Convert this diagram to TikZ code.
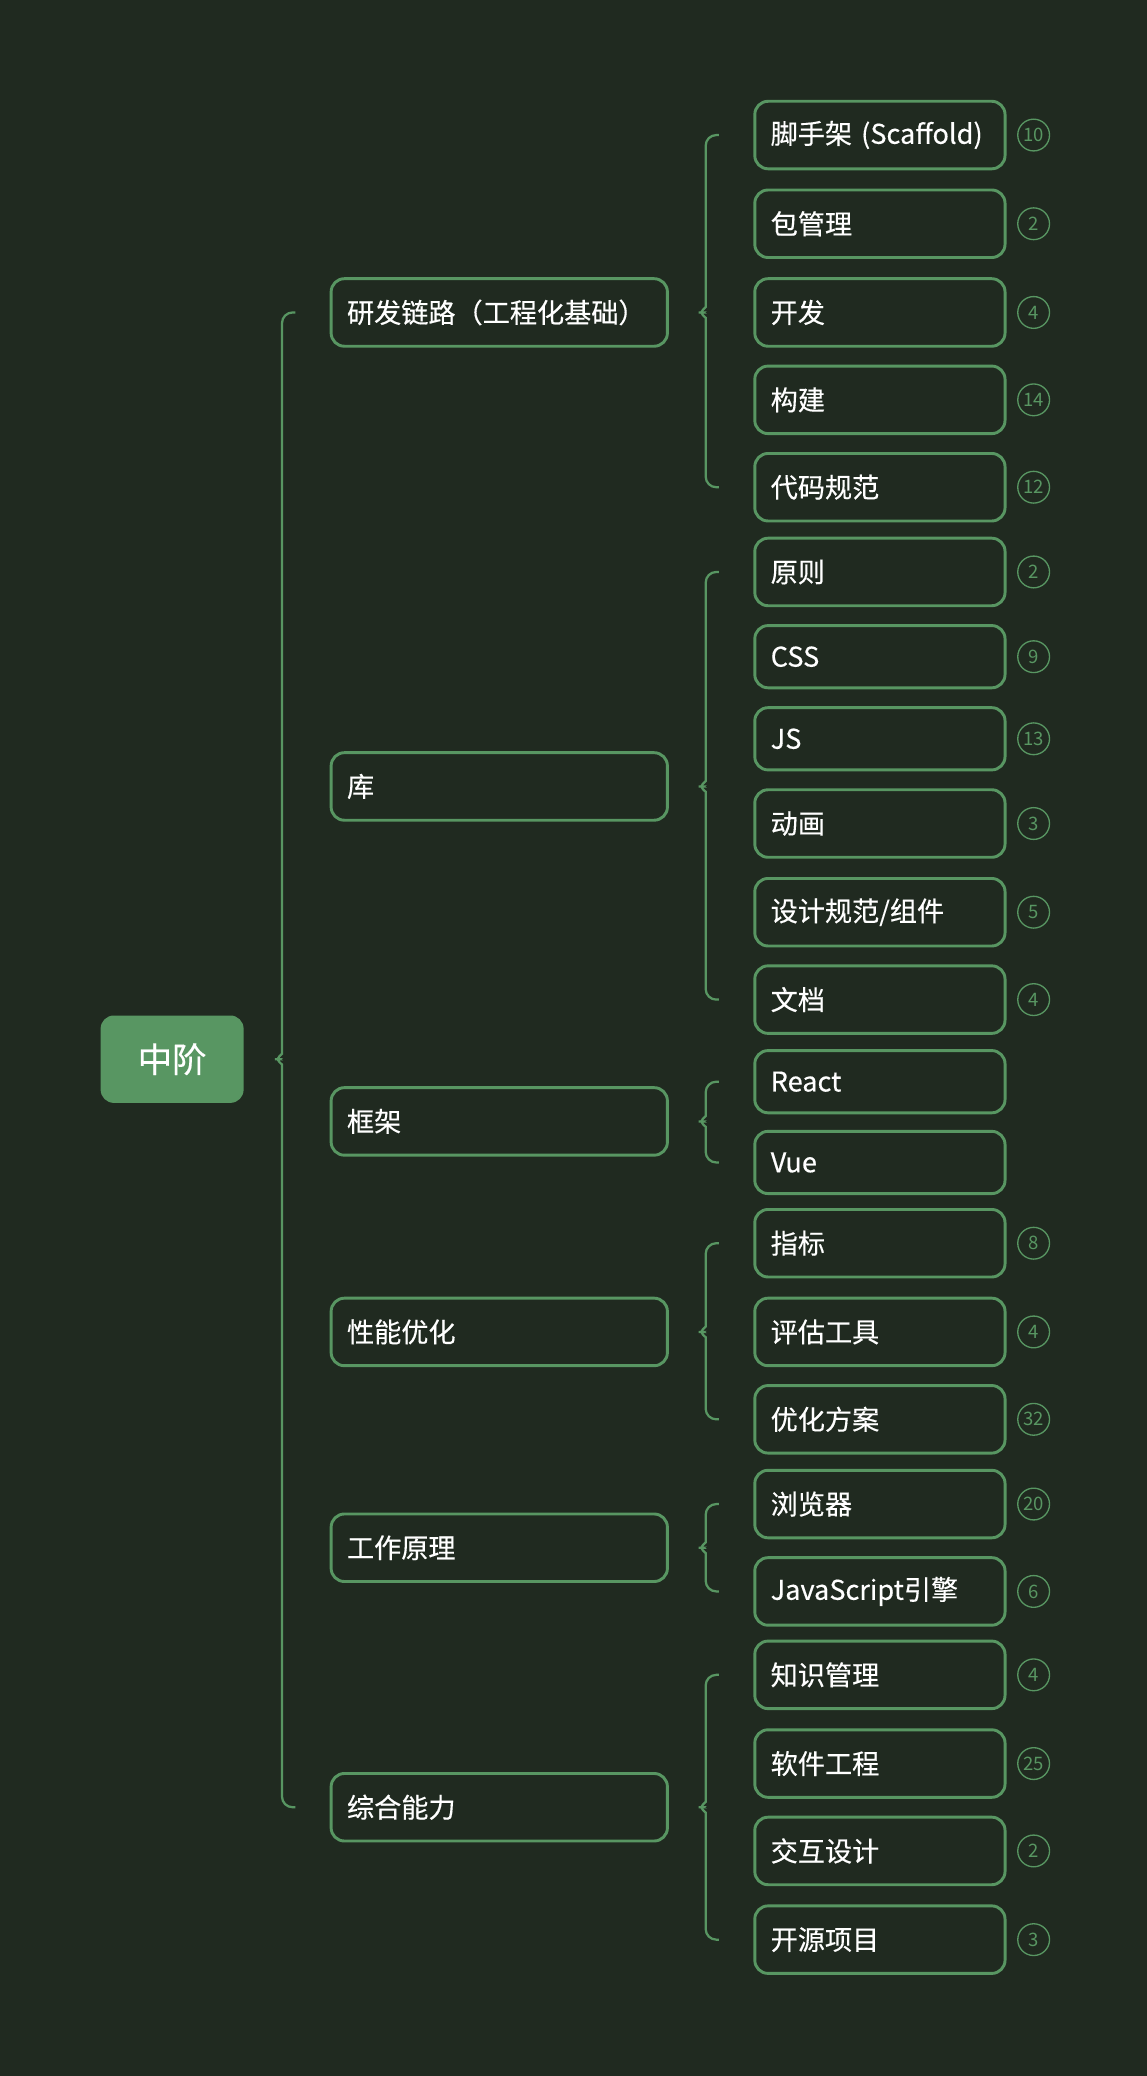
\documentclass[tikz,border=0pt]{standalone}
\usepackage{fontspec}
\setmainfont{Noto Sans CJK SC}[FakeBold=0.35]
\newfontfamily\badgefont{Noto Sans CJK SC}
\usepackage{tikz}
\usetikzlibrary{calc,positioning}
\definecolor{bgdark}{HTML}{202A20}
\definecolor{leaf}{HTML}{589662}

\begin{document}
\begin{tikzpicture}[x=1pt,y=-1pt]

\tikzset{rootnode/.style={fill=leaf,rounded corners=10pt,minimum width=108pt,minimum height=66pt,inner sep=0pt,text=white,font=\fontsize{26}{30}\selectfont},
topic/.style={draw=leaf,line width=2.2pt,rounded corners=10pt,anchor=west,text width=230pt,minimum height=51pt,inner xsep=12pt,inner ysep=0pt,align=left,text=white,font=\fontsize{20.5}{24}\selectfont},
subtopic/.style={topic,text width=165pt},
shortbox/.style={minimum height=47pt},
countbadge/.style={draw=leaf,line width=1pt,circle,minimum size=24pt,inner sep=0pt,text=leaf,font=\badgefont\fontsize{14}{16}\selectfont},
bracepath/.style={draw=leaf,line width=1.7pt,rounded corners=8pt}}

% Background
\fill[bgdark] (0,0) rectangle (866,1568);

% Root
\node[rootnode] (root) at (130,800) {中阶};

% First level
\node[topic] (t1) at (249,236) {研发链路（工程化基础）};
\node[topic] (t2) at (249,594) {库};
\node[topic] (t3) at (249,847) {框架};
\node[topic] (t4) at (249,1006) {性能优化};
\node[topic] (t5) at (249,1169) {工作原理};
\node[topic] (t6) at (249,1365) {综合能力};

% Second level with counts
\node[subtopic] (s11) at (569,102) {脚手架 (Scaffold)}; \node[countbadge,right=8pt of s11] (c11) {10};
\node[subtopic] (s12) at (569,169) {包管理}; \node[countbadge,right=8pt of s12] (c12) {2};
\node[subtopic] (s13) at (569,236) {开发}; \node[countbadge,right=8pt of s13] (c13) {4};
\node[subtopic] (s14) at (569,302) {构建}; \node[countbadge,right=8pt of s14] (c14) {14};
\node[subtopic] (s15) at (569,368) {代码规范}; \node[countbadge,right=8pt of s15] (c15) {12};

\node[subtopic] (s21) at (569,432) {原则}; \node[countbadge,right=8pt of s21] (c21) {2};
\node[subtopic,shortbox] (s22) at (569,496) {CSS}; \node[countbadge,right=8pt of s22] (c22) {9};
\node[subtopic,shortbox] (s23) at (569,558) {JS}; \node[countbadge,right=8pt of s23] (c23) {13};
\node[subtopic] (s24) at (569,622) {动画}; \node[countbadge,right=8pt of s24] (c24) {3};
\node[subtopic] (s25) at (569,689) {设计规范/组件}; \node[countbadge,right=8pt of s25] (c25) {5};
\node[subtopic] (s26) at (569,755) {文档}; \node[countbadge,right=8pt of s26] (c26) {4};

\node[subtopic,shortbox] (s31) at (569,817) {React};
\node[subtopic,shortbox] (s32) at (569,878) {Vue};

\node[subtopic] (s41) at (569,939) {指标}; \node[countbadge,right=8pt of s41] (c41) {8};
\node[subtopic] (s42) at (569,1006) {评估工具}; \node[countbadge,right=8pt of s42] (c42) {4};
\node[subtopic] (s43) at (569,1072) {优化方案}; \node[countbadge,right=8pt of s43] (c43) {32};

\node[subtopic] (s51) at (569,1136) {浏览器}; \node[countbadge,right=8pt of s51] (c51) {20};
\node[subtopic] (s52) at (569,1202) {JavaScript引擎}; \node[countbadge,right=8pt of s52] (c52) {6};

\node[subtopic] (s61) at (569,1265) {知识管理}; \node[countbadge,right=8pt of s61] (c61) {4};
\node[subtopic] (s62) at (569,1332) {软件工程}; \node[countbadge,right=8pt of s62] (c62) {25};
\node[subtopic] (s63) at (569,1398) {交互设计}; \node[countbadge,right=8pt of s63] (c63) {2};
\node[subtopic] (s64) at (569,1465) {开源项目}; \node[countbadge,right=8pt of s64] (c64) {3};

% Braces: parent / first child / last child
\foreach \pa/\fa/\la in {root/t1/t6, t1/s11/s15, t2/s21/s26, t3/s31/s32, t4/s41/s43, t5/s51/s52, t6/s61/s64}
  \draw[bracepath] let \p1=(\pa.east), \p2=(\fa.west), \p3=(\la.west) in
    (\x2-26pt,\y2) -- (\x2-36pt,\y2) -- (\x2-36pt,\y1+12pt)
    .. controls (\x2-36pt,\y1+4pt) and (\x2-41pt,\y1) .. (\x2-46pt,\y1)
    .. controls (\x2-41pt,\y1) and (\x2-36pt,\y1-4pt) .. (\x2-36pt,\y1-12pt)
    -- (\x2-36pt,\y3) -- (\x2-26pt,\y3);

\end{tikzpicture}
\end{document}
